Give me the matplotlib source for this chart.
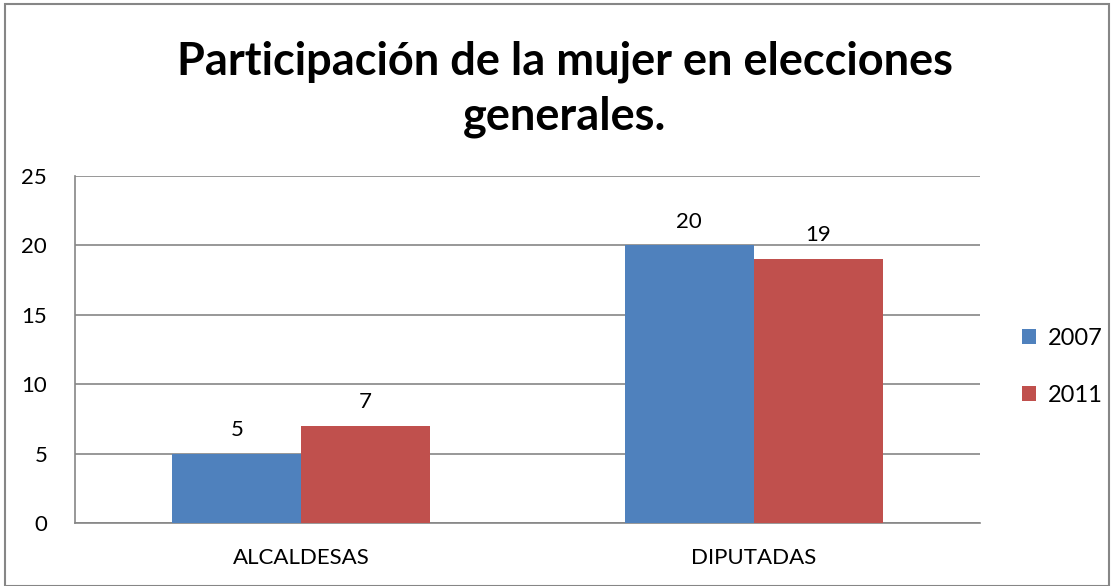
import matplotlib
matplotlib.use("Agg")
import matplotlib.pyplot as plt
from matplotlib.patches import Rectangle
import numpy as np

categories = ["ALCALDESAS", "DIPUTADAS"]
series_names = ["2007", "2011"]
values_2007 = [5, 20]
values_2011 = [7, 19]
yticks = [0, 5, 10, 15, 20, 25]
title = "Participación de la mujer en elecciones\ngenerales."

plt.rcParams['font.family'] = ['Lato', 'DejaVu Sans']

W, H = 1114, 586
fig = plt.figure(figsize=(W / 100, H / 100), dpi=100)
ax = fig.add_axes([75 / W, 1 - 523 / H, (980 - 75) / W, (523 - 176) / H])

x = np.arange(len(categories))
bw = 129 / 452.5
blue = "#4f81bd"
red = "#c0504d"
b1 = ax.bar(x - bw / 2, values_2007, bw, color=blue, label=series_names[0], zorder=3)
b2 = ax.bar(x + bw / 2, values_2011, bw, color=red, label=series_names[1], zorder=3)
for bars, vals in ((b1, values_2007), (b2, values_2011)):
    for r, v in zip(bars, vals):
        ax.annotate(str(v), (r.get_x() + r.get_width() / 2, v), xytext=(0, 10),
                    textcoords="offset points", ha="center", va="bottom", fontsize=16)

ax.set_xlim(-0.5, 1.5)
ax.set_ylim(0, 25)
ax.set_yticks(yticks)
ax.set_xticks(x)
ax.set_xticklabels(categories)
ax.tick_params(axis="both", length=0, labelsize=16, colors="black")
ax.tick_params(axis="y", pad=20)
ax.tick_params(axis="x", pad=18)
ax.grid(axis="y", color="#868686", linewidth=1.2, zorder=0)
for s in ["top", "right"]:
    ax.spines[s].set_visible(False)
ax.spines["left"].set_color("#868686")
ax.spines["bottom"].set_color("#868686")
ax.spines["left"].set_linewidth(1.2)
ax.spines["bottom"].set_linewidth(1.2)

fig.text(565 / W, 1 - 89 / H, title, ha="center", va="center", fontsize=32.5,
         fontweight="bold", linespacing=1.38)

leg = fig.legend(handles=[b1, b2], labels=series_names, loc="center left",
                 bbox_to_anchor=(1001 / W, 1 - 367 / H), frameon=False, fontsize=17,
                 handlelength=0.6, handleheight=0.6, handletextpad=0.5, labelspacing=1.55)

fig.add_artist(Rectangle((5 / W, 0), (W - 10) / W, 1 - 4 / H, transform=fig.transFigure,
                         fill=False, edgecolor="#868686", linewidth=1.5))

fig.savefig("out.png", dpi=100)
